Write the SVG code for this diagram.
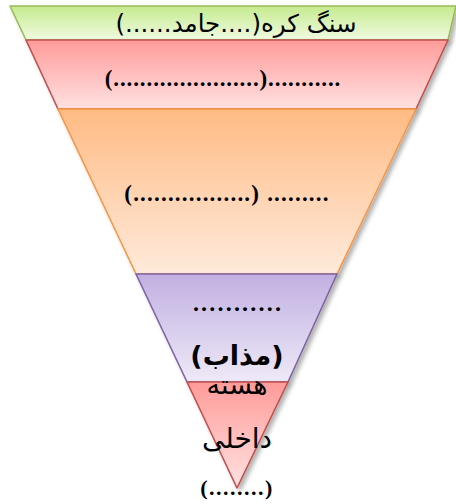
<svg xmlns="http://www.w3.org/2000/svg" width="456" height="504" viewBox="0 0 456 504">
<defs>
<linearGradient id="gG" x1="0" y1="0" x2="0" y2="1"><stop offset="0" stop-color="#c5ea8e"/><stop offset="1" stop-color="#f0fbe2"/></linearGradient>
<linearGradient id="gR" x1="0" y1="0" x2="0" y2="1"><stop offset="0" stop-color="#ff9c9a"/><stop offset="1" stop-color="#ffe1e1"/></linearGradient>
<linearGradient id="gO" x1="0" y1="0" x2="0" y2="1"><stop offset="0" stop-color="#ffbb84"/><stop offset="1" stop-color="#ffeadb"/></linearGradient>
<linearGradient id="gP" x1="0" y1="0" x2="0" y2="1"><stop offset="0" stop-color="#c1b0e2"/><stop offset="1" stop-color="#eee9f7"/></linearGradient>
<linearGradient id="gC" x1="0" y1="0" x2="0" y2="1"><stop offset="0" stop-color="#ff9b99"/><stop offset="1" stop-color="#ffe2e2"/></linearGradient>
<filter id="sh" x="-10%" y="-10%" width="130%" height="130%"><feDropShadow dx="3" dy="3" stdDeviation="2" flood-color="#000" flood-opacity="0.3"/></filter>
</defs>
<style>
.l{stroke-width:1.6;stroke-linejoin:round;filter:url(#sh)}
.t{font-family:"DejaVu Sans","Noto Sans",sans-serif;fill:#000;text-anchor:middle;direction:rtl;unicode-bidi:embed}
.d{font-family:"Liberation Serif","DejaVu Sans",serif;fill:#000;text-anchor:middle;direction:rtl;unicode-bidi:embed;font-weight:bold}
</style>
<g id="layer-lithosphere">
<polygon class="l" points="10,6 456,6 448,40 26,40" fill="url(#gG)" stroke="#9bbb59"/>
<text class="t" x="236" y="32" font-size="24.5">سنگ کره(....جامد......)</text>
</g>
<g id="layer-2">
<polygon class="l" points="26,40 448,40 416,109 58,109" fill="url(#gR)" stroke="#c0504d"/>
<text class="d" x="223" y="86" font-size="23" letter-spacing="0.9">...........(......................)</text>
</g>
<g id="layer-3">
<polygon class="l" points="58,109 416,109 337,274 136,274" fill="url(#gO)" stroke="#f79646"/>
<text class="d" x="227" y="201" font-size="23" letter-spacing="1.2">.........    (.................)</text>
</g>
<g id="layer-4">
<polygon class="l" points="136,274 337,274 288,382 187,382" fill="url(#gP)" stroke="#8064a2"/>
<text class="d" x="238" y="311" font-size="24" letter-spacing="2.2">...........</text>
<text class="t" x="237" y="365" font-size="27" font-weight="bold">(مذاب)</text>
</g>
<g id="layer-core">
<polygon class="l" points="187,382 288,382 237,488" fill="url(#gC)" stroke="#c0504d"/>
<text class="t" x="237" y="394" font-size="27">هسته</text>
<text class="t" x="237" y="448" font-size="28">داخلی</text>
<text class="d" x="237" y="495" font-size="22" font-weight="normal" letter-spacing="1.5">(........)</text>
</g>
<g id="connectors"/>
</svg>
